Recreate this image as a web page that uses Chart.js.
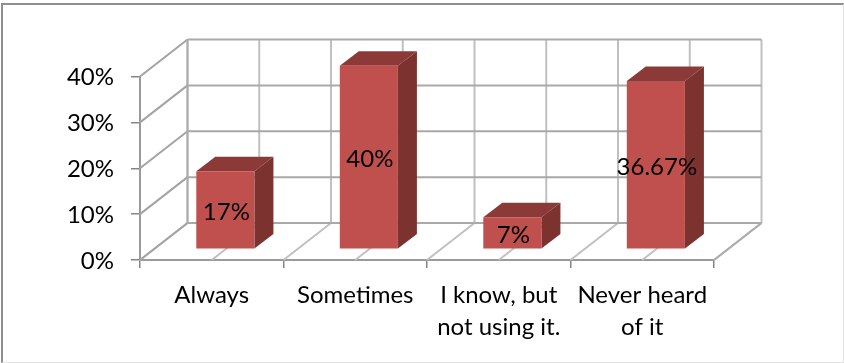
<!DOCTYPE html>
<html>
<head>
<meta charset="utf-8">
<title>Chart</title>
<script src="https://cdn.jsdelivr.net/npm/chart.js@4/dist/chart.umd.js"></script>
<style>
    html, body { margin: 0; padding: 0; background: #fff; }
    #wrap { position: relative; width: 844px; height: 363px; }
    #frame { position: absolute; left: 1px; top: 3px; right: 0; bottom: 0; border-style: solid; border-width: 2px 1px 1px 2px; border-color: #8f8f8f #e2e2e2 #e2e2e2 #8f8f8f; }
</style>
</head>
<body>
<div id="wrap">
    <canvas id="barChart" width="844" height="363"></canvas>
    <div id="frame"></div>
</div>
<script>
const categories = [["Always"], ["Sometimes"], ["I know, but", "not using it."], ["Never heard", "of it"]];
const percentValues = [17, 40, 7, 36.67];
const axisTicks = [0, 10, 20, 30, 40];

// how far the back wall sits behind the front plane
const WALL_DX = 47.5, WALL_DY = -37;
// how far the bars sit behind the front plane, and how deep they are
const BAR_DX = 13.6, BAR_DY = -10.7;
const DEPTH_DX = 19, DEPTH_DY = -14.5;

// ==========================
// 3D WALLS, FLOOR, BAR SIDES
// ==========================
function line(ctx, x1, y1, x2, y2, color) {
    ctx.strokeStyle = color;
    ctx.lineWidth = 2;
    ctx.beginPath();
    ctx.moveTo(x1, y1);
    ctx.lineTo(x2, y2);
    ctx.stroke();
}

function face(ctx, points, color) {
    ctx.fillStyle = color;
    ctx.beginPath();
    points.forEach((p, i) => i ? ctx.lineTo(p[0], p[1]) : ctx.moveTo(p[0], p[1]));
    ctx.closePath();
    ctx.fill();
}

const box3d = {
    id: "box3d",
    beforeDatasetsDraw(chart) {
        const ctx = chart.ctx;
        const x = chart.scales.x, y = chart.scales.y;
        const bottom = y.getPixelForValue(0), top = y.getPixelForValue(40);
        const left = x.left, right = x.right;
        const half = (right - left) / categories.length / 2;

        ctx.save();
        // floor and back wall verticals, every half category
        for (let i = 0; i <= categories.length * 2; i++) {
            const px = left + i * half;
            line(ctx, px + WALL_DX, top + WALL_DY, px + WALL_DX, bottom + WALL_DY, "#c0c0c0");
            line(ctx, px, bottom, px + WALL_DX, bottom + WALL_DY, "#c0c0c0");
        }
        // side wall and back wall horizontals
        axisTicks.forEach(v => {
            const py = y.getPixelForValue(v);
            line(ctx, left, py, left + WALL_DX, py + WALL_DY, "#a3a3a3");
            line(ctx, left + WALL_DX, py + WALL_DY, right + WALL_DX, py + WALL_DY, "#a9a9a9");
        });
        line(ctx, left + WALL_DX, top + WALL_DY, left + WALL_DX, bottom + WALL_DY, "#acacac");
        line(ctx, right, bottom, right + WALL_DX, bottom + WALL_DY, "#acacac");

        // top and side of each bar
        ctx.translate(BAR_DX, BAR_DY);
        chart.getDatasetMeta(0).data.forEach(bar => {
            const l = bar.x - bar.width / 2, r = bar.x + bar.width / 2;
            face(ctx, [[l, bar.y], [r, bar.y], [r + DEPTH_DX, bar.y + DEPTH_DY], [l + DEPTH_DX, bar.y + DEPTH_DY]], "#8c3a38");
            face(ctx, [[r, bar.y], [r + DEPTH_DX, bar.y + DEPTH_DY], [r + DEPTH_DX, bar.base + DEPTH_DY], [r, bar.base]], "#7c322f");
        });
        ctx.restore();

        // front faces are drawn by the library, moved back with the rest
        ctx.save();
        ctx.translate(BAR_DX, BAR_DY);
    },
    afterDatasetsDraw(chart) {
        const ctx = chart.ctx;
        ctx.restore();

        ctx.save();
        ctx.fillStyle = "#000";
        ctx.font = "24px Lato";
        ctx.textAlign = "center";
        ctx.textBaseline = "middle";
        chart.getDatasetMeta(0).data.forEach((bar, i) => {
            ctx.fillText(percentValues[i] + "%", bar.x + BAR_DX + 1, (bar.y + bar.base) / 2 + BAR_DY + 2);
        });
        ctx.restore();
    }
};

new Chart(document.getElementById("barChart"), {
    type: "bar",
    data: {
        labels: categories,
        datasets: [{
            data: percentValues,
            backgroundColor: "#c0504d",
            barPercentage: 0.405,
            categoryPercentage: 1,
            clip: false
        }]
    },
    options: {
        responsive: false,
        animation: false,
        layout: { padding: { top: 76.5, right: 130 } },
        plugins: { legend: { display: false }, tooltip: { enabled: false } },
        scales: {
            x: {
                afterFit: s => { s.height = 103; },
                grid: { drawOnChartArea: false, color: "#868686", tickLength: 8, lineWidth: 1.5 },
                border: { color: "#9a9a9a", width: 2 },
                ticks: { color: "#000", font: { family: "Lato", size: 24, lineHeight: 1.33 }, padding: 11, maxRotation: 0, autoSkip: false }
            },
            y: {
                min: 0,
                max: 40,
                afterFit: s => { s.width = 140; },
                afterBuildTicks: s => { s.ticks = axisTicks.map(v => ({ value: v })); },
                grid: { drawOnChartArea: false, color: "#868686", tickLength: 9, lineWidth: 1.5 },
                border: { color: "#9a9a9a", width: 2 },
                ticks: { color: "#000", font: { family: "Lato", size: 24 }, padding: 17, labelOffset: 1, callback: v => v + "%" }
            }
        }
    },
    plugins: [box3d]
});
</script>
</body>
</html>
